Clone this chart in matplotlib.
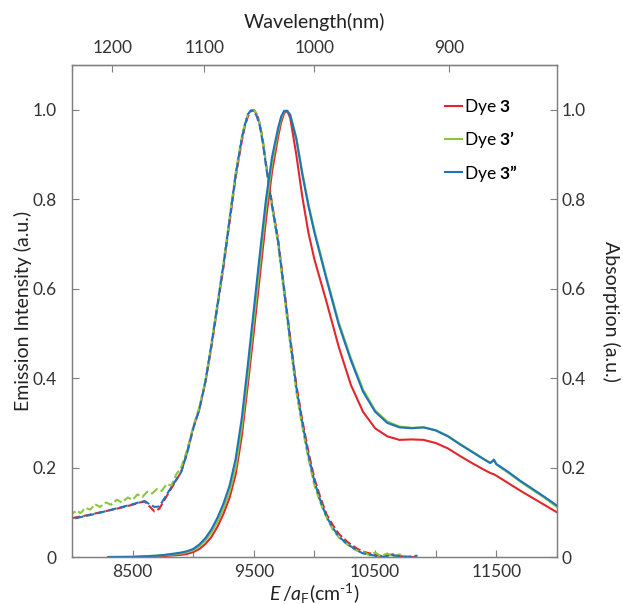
import matplotlib
matplotlib.use("Agg")
import matplotlib.pyplot as plt
import numpy as np

plt.rcParams['font.family'] = ['Lato', 'DejaVu Sans']
plt.rcParams['mathtext.fontset'] = 'custom'
plt.rcParams['mathtext.rm'] = 'Lato'
plt.rcParams['mathtext.it'] = 'Lato:italic'
plt.rcParams['mathtext.bf'] = 'Lato:bold'

# colours of the three dyes
red = "#e3262b"
green = "#8cc63f"
blue = "#1c75bc"

# absorption spectra (solid), wavenumber in cm-1
absE = [8300, 8500, 8700, 8800,
        8900, 8950, 9000, 9050, 9100, 9150, 9200, 9250, 9300, 9350, 9400,
        9450, 9500, 9550, 9600, 9650, 9700, 9725, 9750, 9775, 9800, 9850,
        9900, 9950, 10000,
        10100, 10200, 10300, 10400, 10500, 10600, 10700, 10800, 10900, 11000,
        11100, 11200, 11300, 11400, 11450, 11480, 11500, 11600, 11700, 11800,
        11900, 12000]
abs3 = [0.0, 0.0, 0.001, 0.003,
        0.005, 0.007, 0.011, 0.018, 0.029, 0.045, 0.068, 0.097, 0.133, 0.185,
        0.27, 0.385, 0.505, 0.63, 0.755, 0.862, 0.94, 0.972, 0.993, 0.998,
        0.982, 0.90, 0.805, 0.725, 0.665,
        0.57, 0.47, 0.385, 0.325, 0.288, 0.27, 0.262, 0.263, 0.262, 0.255,
        0.243, 0.226, 0.21, 0.195, 0.188, 0.185, 0.182, 0.165, 0.148, 0.132,
        0.116, 0.10]
abs3p = [0.0, 0.001, 0.003, 0.005,
         0.008, 0.011, 0.015, 0.024, 0.037, 0.055, 0.079, 0.109, 0.146, 0.2,
         0.29, 0.405, 0.53, 0.655, 0.78, 0.88, 0.953, 0.98, 0.997, 0.998,
         0.99, 0.938, 0.86, 0.79, 0.73,
         0.625, 0.525, 0.445, 0.375, 0.328, 0.303, 0.292, 0.289, 0.29, 0.284,
         0.271, 0.253, 0.236, 0.219, 0.211, 0.216, 0.207, 0.188, 0.168, 0.150,
         0.132, 0.112]
abs3pp = [0.0, 0.0, 0.003, 0.006,
          0.01, 0.013, 0.018, 0.028, 0.042, 0.062, 0.088, 0.12, 0.16, 0.22,
          0.31, 0.43, 0.555, 0.68, 0.80, 0.895, 0.96, 0.985, 0.998, 0.998,
          0.988, 0.935, 0.855, 0.785, 0.725,
          0.62, 0.52, 0.44, 0.37, 0.325, 0.30, 0.29, 0.288, 0.29, 0.283,
          0.27, 0.252, 0.235, 0.218, 0.21, 0.218, 0.208, 0.19, 0.17, 0.152,
          0.134, 0.115]

# emission spectra (dashed)
emE = [8000, 8100, 8200, 8300, 8400, 8500, 8560, 8600, 8640, 8680, 8720, 8800,
       8900, 8950, 9000, 9050, 9100, 9150, 9200, 9250, 9300, 9350, 9400, 9425,
       9450, 9475, 9500, 9525, 9550, 9575, 9600, 9650, 9700, 9750, 9800, 9850,
       9900, 9950, 10000, 10050, 10100, 10150, 10200, 10270, 10350, 10400,
       10500, 10550, 10650, 10750, 10850]
em3 = [0.087, 0.092, 0.098, 0.104, 0.110, 0.117, 0.122, 0.124, 0.113, 0.102,
       0.108, 0.145, 0.19, 0.235, 0.29, 0.33, 0.39, 0.47, 0.56, 0.65, 0.75,
       0.85, 0.93, 0.962, 0.985, 0.997, 1.0, 0.99, 0.968, 0.93, 0.88, 0.79,
       0.71, 0.60, 0.49, 0.385, 0.305, 0.235, 0.175, 0.132, 0.095, 0.072,
       0.052, 0.034, 0.019, 0.012, 0.005, 0.002, 0.006, 0.0, 0.0]
em3pp = [0.085, 0.091, 0.097, 0.104, 0.111, 0.118, 0.123, 0.125, 0.118, 0.112,
         0.113, 0.148, 0.19, 0.233, 0.287, 0.33, 0.392, 0.475, 0.565, 0.655,
         0.755, 0.855, 0.935, 0.966, 0.99, 0.999, 0.998, 0.985, 0.963, 0.924,
         0.875, 0.785, 0.705, 0.595, 0.485, 0.38, 0.3, 0.228, 0.168, 0.125,
         0.09, 0.066, 0.046, 0.029, 0.015, 0.008, 0.003, 0.0, 0.004, 0.0, 0.003]
em3pE = [8000, 8040, 8070, 8110, 8150, 8190, 8230, 8280, 8320, 8370, 8410, 8460,
         8500, 8540, 8580, 8620, 8660, 8700, 8740, 8780, 8820, 8860, 8900, 8950,
         9000, 9050, 9100, 9150, 9200, 9250, 9300, 9350, 9400, 9425, 9450, 9475,
         9500, 9525, 9550, 9575, 9600, 9650, 9700, 9750, 9800, 9850, 9900, 9950,
         10000, 10050, 10100, 10150, 10200, 10270, 10350, 10400, 10450, 10500,
         10550, 10600, 10650, 10700, 10780]
em3p = [0.097, 0.104, 0.098, 0.110, 0.106, 0.118, 0.112, 0.122, 0.117, 0.128,
        0.122, 0.133, 0.128, 0.140, 0.134, 0.146, 0.142, 0.152, 0.148, 0.163,
        0.160, 0.185, 0.20, 0.24, 0.292, 0.335, 0.395, 0.478, 0.568, 0.66, 0.76,
        0.86, 0.94, 0.968, 0.99, 0.998, 1.0, 0.99, 0.968, 0.928, 0.878, 0.785,
        0.70, 0.588, 0.475, 0.37, 0.29, 0.22, 0.16, 0.12, 0.088, 0.062, 0.044,
        0.028, 0.014, 0.012, 0.004, 0.010, 0.002, 0.008, 0.0, 0.006, 0.0]

labels = ["Dye $\\mathbf{3}$", "Dye $\\mathbf{3\u2019}$", "Dye $\\mathbf{3\u201d}$"]

fs_tick = 12.5
fs_lab = 14

fig = plt.figure(figsize=(6.23, 6.04), dpi=100)
ax = fig.add_axes([0.1156, 0.0778, 0.7784, 0.8142])

lw = 1.5
ax.plot(emE, em3, color=red, lw=lw, ls=(0, (4, 1.5)))
ax.plot(em3pE, em3p, color=green, lw=lw, ls=(2, (4, 1.5)))
ax.plot(emE, em3pp, color=blue, lw=lw, ls=(4, (4, 1.5)))
ax.plot(absE, abs3, color=red, lw=lw, label=labels[0])
ax.plot(absE, abs3p, color=green, lw=lw, label=labels[1])
ax.plot(absE, abs3pp, color=blue, lw=lw, label=labels[2])

ax.set_xlim(8000, 12000)
ax.set_ylim(0, 1.1)

grey = "#7f7f7f"
for s in ax.spines.values():
    s.set_color(grey)
    s.set_linewidth(1.0)

ax.set_xticks([8500, 9000, 9500, 10000, 10500, 11000, 11500])
ax.set_xticklabels(["8500", "", "9500", "", "10500", "", "11500"])
ax.set_yticks([0, 0.2, 0.4, 0.6, 0.8, 1.0])
ax.set_yticklabels(["0", "0.2", "0.4", "0.6", "0.8", "1.0"])
ax.tick_params(axis="x", direction="in", length=5, color=grey,
               labelsize=fs_tick, labelcolor="#333333", pad=5)
ax.tick_params(axis="y", direction="in", length=5, color=grey,
               labelsize=fs_tick, labelcolor="#333333", pad=11)

ax.set_xlabel("$\\it{E}\\,/\\it{a}_{\\rm F}$(cm$^{\\text{-}1}$)",
              fontsize=fs_lab, labelpad=1, color="#222222")
ax.set_ylabel("Emission Intensity (a.u.)", fontsize=fs_lab, labelpad=0,
              color="#222222")

# right axis: absorption
ax2 = ax.twinx()
ax2.set_ylim(0, 1.1)
ax2.set_yticks([0, 0.2, 0.4, 0.6, 0.8, 1.0])
ax2.set_yticklabels(["0", "0.2", "0.4", "0.6", "0.8", "1.0"])
ax2.tick_params(axis="y", direction="in", length=5, color=grey,
                labelsize=fs_tick, labelcolor="#333333", pad=3)
ax2.set_ylabel("Absorption (a.u.)", fontsize=fs_lab, rotation=270,
               labelpad=25, color="#222222")
for s in ax2.spines.values():
    s.set_color(grey)

# top axis: wavelength
def e2nm(x):
    x = np.asarray(x, dtype=float)
    with np.errstate(divide="ignore"):
        return np.where(x == 0, np.inf, 1e7 / x)

top = ax.secondary_xaxis("top", functions=(e2nm, e2nm))
top.set_xticks([1200, 1100, 1000, 900])
top.set_xticklabels(["1200", "1100", "1000", "900"])
top.tick_params(direction="in", length=5, color=grey, labelsize=fs_tick,
                labelcolor="#333333", pad=7)
top.set_xlabel("Wavelength(nm)", fontsize=fs_lab, labelpad=8, color="#222222")
top.spines["top"].set_color(grey)

leg = ax.legend(loc="upper left", bbox_to_anchor=(0.769, 0.935), frameon=False,
                borderpad=0, fontsize=fs_tick, handlelength=1.0,
                handletextpad=0.1, labelspacing=0.7, borderaxespad=0)

fig.savefig("out.png", dpi=100)
